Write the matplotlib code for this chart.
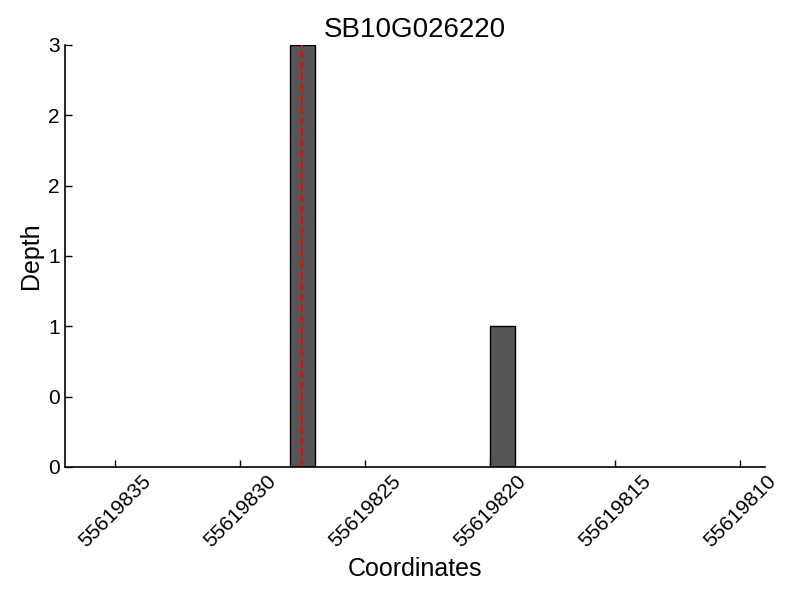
import matplotlib
matplotlib.use('Agg')
import matplotlib.pyplot as plt
from matplotlib.ticker import FormatStrFormatter
import numpy as np

plt.rcParams['font.family'] = ['Liberation Sans', 'DejaVu Sans']

# positions and depths
coords = [55619827, 55619819]
depth = [3, 1]
marker_pos = 55619827.5
gene = 'SB10G026220'
xticks = [55619835, 55619830, 55619825, 55619820, 55619815, 55619810]

fig = plt.figure(figsize=(8, 6), dpi=100)
ax = fig.add_axes([0.081, 0.222, 0.875, 0.703])

ax.bar(coords, depth, width=1, align='edge', color='#555555', edgecolor='black', linewidth=1)
ax.axvline(marker_pos, color='red', linestyle='--', linewidth=1.5)

ax.set_xlim(55619837, 55619809)
ax.set_ylim(0, 3)
ax.set_xticks(xticks)
ax.set_xticklabels([str(t) for t in xticks], rotation=45, fontsize=15)
ax.set_yticks(np.arange(0, 3.01, 0.5))
ax.yaxis.set_major_formatter(FormatStrFormatter('%d'))
ax.tick_params(axis='y', labelsize=15)
ax.tick_params(direction='in', length=5, width=1, top=False, right=False)

ax.spines['top'].set_visible(False)
ax.spines['right'].set_visible(False)
ax.spines['left'].set_linewidth(1.2)
ax.spines['bottom'].set_linewidth(1.2)

ax.set_xlabel('Coordinates', fontsize=18)
ax.set_ylabel('Depth', fontsize=18)
ax.set_title(gene, fontsize=20)

fig.savefig('out.png', dpi=100)
